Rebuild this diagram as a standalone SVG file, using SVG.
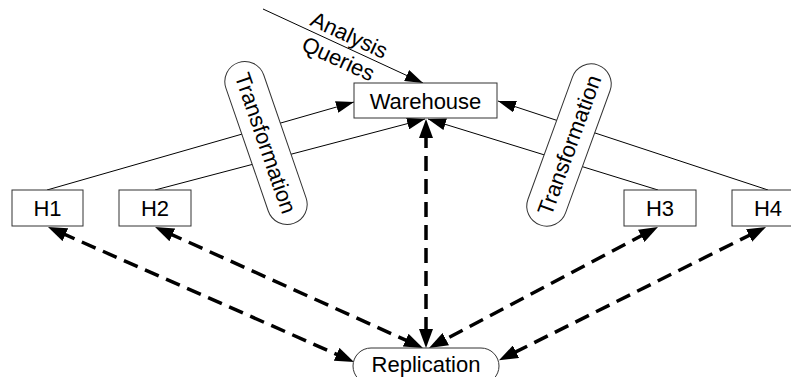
<svg xmlns="http://www.w3.org/2000/svg" width="791" height="377" viewBox="0 0 791 377">
<style>
text{font-family:"Liberation Sans",Arial,sans-serif;font-size:22px;fill:#000;text-anchor:middle}
.box{fill:#fff;stroke:#333;stroke-width:1}
.thin{stroke:#000;stroke-width:1;fill:none;marker-end:url(#ah)}
.dash{stroke:#000;stroke-width:3.5;fill:none;stroke-dasharray:15,8;marker-start:url(#dh);marker-end:url(#dh)}
</style>
<defs>
<marker id="ah" markerUnits="userSpaceOnUse" markerWidth="18" markerHeight="12" refX="18" refY="6" orient="auto"><path d="M0,0 L18,6 L0,12 z" fill="#000"/></marker>
<marker id="dh" markerUnits="userSpaceOnUse" markerWidth="19" markerHeight="14" refX="5" refY="7" orient="auto-start-reverse"><path d="M0,0 L19,7 L0,14 z" fill="#000"/></marker>
</defs>
<g id="connectors">
<line class="thin" x1="263" y1="9" x2="423" y2="83"/>
<line class="thin" x1="47" y1="190" x2="354" y2="102"/>
<line class="thin" x1="155" y1="190" x2="425" y2="119"/>
<line class="thin" x1="658" y1="190" x2="428" y2="119"/>
<line class="thin" x1="768" y1="190" x2="498" y2="101"/>
<line class="dash" x1="60.8" y1="232.7" x2="341.2" y2="356.3"/>
<line class="dash" x1="167.8" y1="232.8" x2="410.2" y2="342.2"/>
<line class="dash" x1="426" y1="133" x2="426" y2="334"/>
<line class="dash" x1="645.6" y1="233.5" x2="441.4" y2="341.5"/>
<line class="dash" x1="753.5" y1="233.2" x2="511.5" y2="354"/>
</g>
<g id="label-analysis" transform="translate(344,46.5) rotate(24.7)">
<text x="0" y="-5">Analysis</text>
<text x="0" y="21">Queries</text>
</g>
<g id="warehouse">
<rect class="box" x="354" y="83" width="143" height="35"/>
<text x="425.5" y="108.5">Warehouse</text>
</g>
<g id="h1">
<rect class="box" x="12" y="190" width="71" height="36"/>
<text x="47.5" y="216">H1</text>
</g>
<g id="h2">
<rect class="box" x="119" y="190" width="72" height="36"/>
<text x="155" y="216">H2</text>
</g>
<g id="h3">
<rect class="box" x="624" y="190" width="72" height="36"/>
<text x="660" y="216">H3</text>
</g>
<g id="h4">
<rect class="box" x="732" y="190" width="72" height="36"/>
<text x="768" y="216">H4</text>
</g>
<g id="transformation-left" transform="translate(266,143) rotate(71)">
<rect class="box" x="-85" y="-20" width="170" height="40" rx="20"/>
<text x="0" y="8">Transformation</text>
</g>
<g id="transformation-right" transform="translate(569,145) rotate(-70)">
<rect class="box" x="-85" y="-20" width="170" height="40" rx="20"/>
<text x="0" y="8">Transformation</text>
</g>
<g id="replication">
<rect class="box" x="353" y="348" width="146" height="36" rx="18"/>
<text x="426" y="372">Replication</text>
</g>
</svg>
